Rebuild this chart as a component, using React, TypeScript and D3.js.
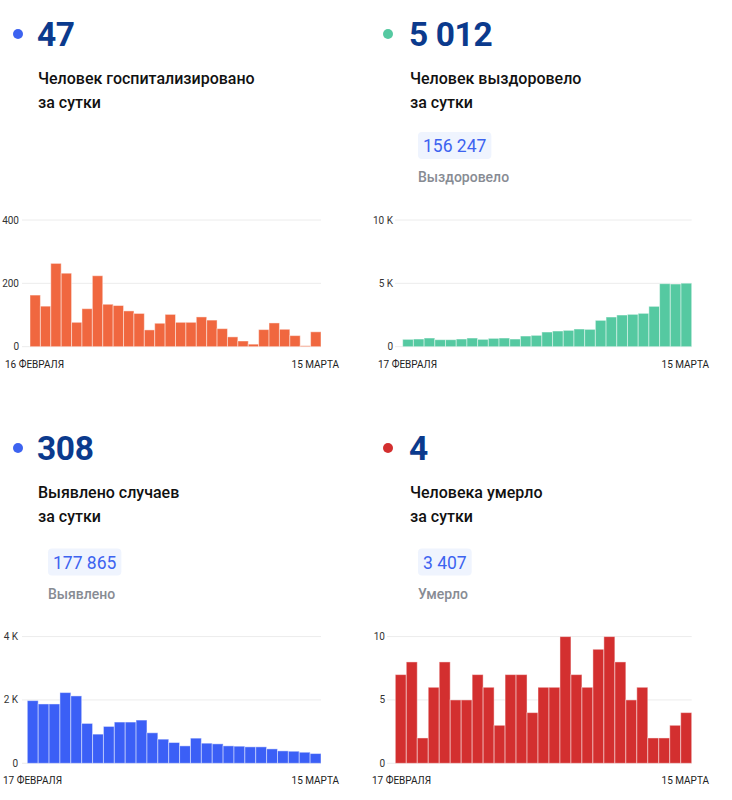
import React, { useEffect, useRef } from "react";
import * as d3 from "d3";

// ---- Data ----
const hospValues = [163, 128, 263, 232, 77, 120, 224, 134, 130, 113, 105, 53, 74, 102, 77, 77, 94, 84, 57, 31, 18, 8, 54, 75, 55, 35, 3, 47];
const recValues = [580, 605, 684, 553, 553, 605, 684, 580, 658, 684, 605, 842, 895, 1158, 1237, 1290, 1395, 1368, 2079, 2342, 2500, 2553, 2632, 3184, 4974, 4947, 5012];
const caseValues = [1979, 1873, 1873, 2233, 2127, 1259, 921, 1164, 1302, 1302, 1365, 963, 762, 656, 550, 794, 635, 614, 550, 540, 519, 519, 455, 392, 381, 349, 308];
const deathValues = [7, 8, 2, 6, 8, 5, 5, 7, 6, 3, 7, 7, 4, 6, 6, 10, 7, 6, 9, 10, 8, 5, 6, 2, 2, 3, 4];

const hospTicks = [0, 200, 400];
const hospTickLabels = ["0", "200", "400"];
const recTicks = [0, 5000, 10000];
const recTickLabels = ["0", "5 K", "10 K"];
const caseTicks = [0, 2000, 4000];
const caseTickLabels = ["0", "2 K", "4 K"];
const deathTicks = [0, 5, 10];
const deathTickLabels = ["0", "5", "10"];

const headNumbers = ["47", "5 012", "308", "4"];
const headLine1 = ["Человек госпитализировано", "Человек выздоровело", "Выявлено случаев", "Человека умерло"];
const headLine2 = ["за сутки", "за сутки", "за сутки", "за сутки"];
const totals = [null, "156 247", "177 865", "3 407"];
const totalLabels = [null, "Выздоровело", "Выявлено", "Умерло"];
const startLabels = ["16 ФЕВРАЛЯ", "17 ФЕВРАЛЯ", "17 ФЕВРАЛЯ", "17 ФЕВРАЛЯ"];
const endLabels = ["15 МАРТА", "15 МАРТА", "15 МАРТА", "15 МАРТА"];

const barColors = ["#f0673f", "#55c9a1", "#3b5ff6", "#d32f2f"];
const dotColors = ["#3d63f0", "#55c9a1", "#3d63f0", "#d32f2f"];

const panels = [
  { values: hospValues, ticks: hospTicks, tickLabels: hospTickLabels, max: 400, hy: 0, oy: 0, gridX0: 22, barX0: 30, barX1: 321, tickR: 19, labX0: 5, labX1: 339 },
  { values: recValues, ticks: recTicks, tickLabels: recTickLabels, max: 10000, hy: 0, oy: 0, gridX0: 395, barX0: 402.7, barX1: 691.7, tickR: 393, labX0: 378, labX1: 709 },
  { values: caseValues, ticks: caseTicks, tickLabels: caseTickLabels, max: 4000, hy: 414, oy: 416.6, gridX0: 22, barX0: 27.3, barX1: 321, tickR: 18, labX0: 3, labX1: 339 },
  { values: deathValues, ticks: deathTicks, tickLabels: deathTickLabels, max: 10, hy: 414, oy: 416.6, gridX0: 387, barX0: 395.3, barX1: 691.7, tickR: 385, labX0: 372, labX1: 709 },
];

export default function App() {
  const ref = useRef<SVGSVGElement | null>(null);

  useEffect(() => {
    const svg = d3.select(ref.current);
    svg.selectAll("*").remove();
    const font = "Roboto, 'Noto Sans', sans-serif";

    panels.forEach((p, i) => {
      const g = svg.append("g");
      const hy = p.hy;
      const oy = p.oy;
      const hx = i % 2 === 0 ? 38 : 410;
      const dx = i % 2 === 0 ? 18 : 388;

      // header
      g.append("circle").attr("cx", dx).attr("cy", 34 + hy).attr("r", 5).attr("fill", dotColors[i]);
      g.append("text").attr("x", hx - 1).attr("y", 46 + hy).attr("font-family", font).attr("font-weight", 700)
        .attr("font-size", 33.5).attr("fill", "#0b3a8d").attr("letter-spacing", -0.4).text(headNumbers[i]);
      g.append("text").attr("x", hx).attr("y", 83.5 + hy).attr("font-family", font).attr("font-weight", 500)
        .attr("font-size", 16).attr("fill", "#111").text(headLine1[i]);
      g.append("text").attr("x", hx).attr("y", 108 + hy).attr("font-family", font).attr("font-weight", 500)
        .attr("font-size", 16).attr("fill", "#111").text(headLine2[i]);

      if (totals[i]) {
        const px = i % 2 === 0 ? 48 : 418;
        const rect = g.append("rect").attr("x", px).attr("y", 132 + oy).attr("height", 27).attr("rx", 4).attr("fill", "#eff4fe");
        const t = g.append("text").attr("x", px + 5).attr("y", 152 + oy).attr("font-family", font).attr("font-size", 17.5)
          .attr("fill", "#3d63f0").text(totals[i] as string);
        const w = (t.node() as SVGTextElement).getComputedTextLength();
        rect.attr("width", w + 10);
        g.append("text").attr("x", px).attr("y", 182 + oy).attr("font-family", font).attr("font-weight", 500)
          .attr("font-size", 14).attr("fill", "#878b93").text(totalLabels[i] as string);
      }

      // chart
      const y0 = 346.7 + oy;
      const yTop = 220 + oy;
      const y = d3.scaleLinear().domain([0, p.max]).range([y0, yTop]);
      const x = d3.scaleBand<number>().domain(p.values.map((_, k) => k)).range([p.barX0, p.barX1]).padding(0);

      p.ticks.forEach((tv, k) => {
        g.append("line").attr("x1", p.gridX0).attr("x2", p.barX1).attr("y1", y(tv)).attr("y2", y(tv))
          .attr("stroke", "#ececec").attr("stroke-width", 1);
        g.append("text").attr("x", p.tickR).attr("y", y(tv)).attr("dy", "0.35em").attr("text-anchor", "end")
          .attr("font-family", font).attr("font-size", 10).attr("fill", "#333").text(p.tickLabels[k]);
      });

      g.selectAll("rect.bar").data(p.values).enter().append("rect").attr("class", "bar")
        .attr("x", (_, k) => x(k) as number)
        .attr("width", x.bandwidth())
        .attr("y", (v) => y(v))
        .attr("height", (v) => y0 - y(v))
        .attr("fill", barColors[i])
        .attr("stroke", "rgba(255,255,255,0.45)")
        .attr("stroke-width", 1);

      g.append("text").attr("x", p.labX0).attr("y", 367.5 + oy).attr("font-family", font).attr("font-size", 10)
        .attr("fill", "#222").text(startLabels[i]);
      g.append("text").attr("x", p.labX1).attr("y", 367.5 + oy).attr("text-anchor", "end").attr("font-family", font)
        .attr("font-size", 10).attr("fill", "#222").text(endLabels[i]);
    });
  }, []);

  return (
    <svg ref={ref} width={732} height={800} style={{ position: "absolute", left: 0, top: 0, background: "#fff" }} />
  );
}
